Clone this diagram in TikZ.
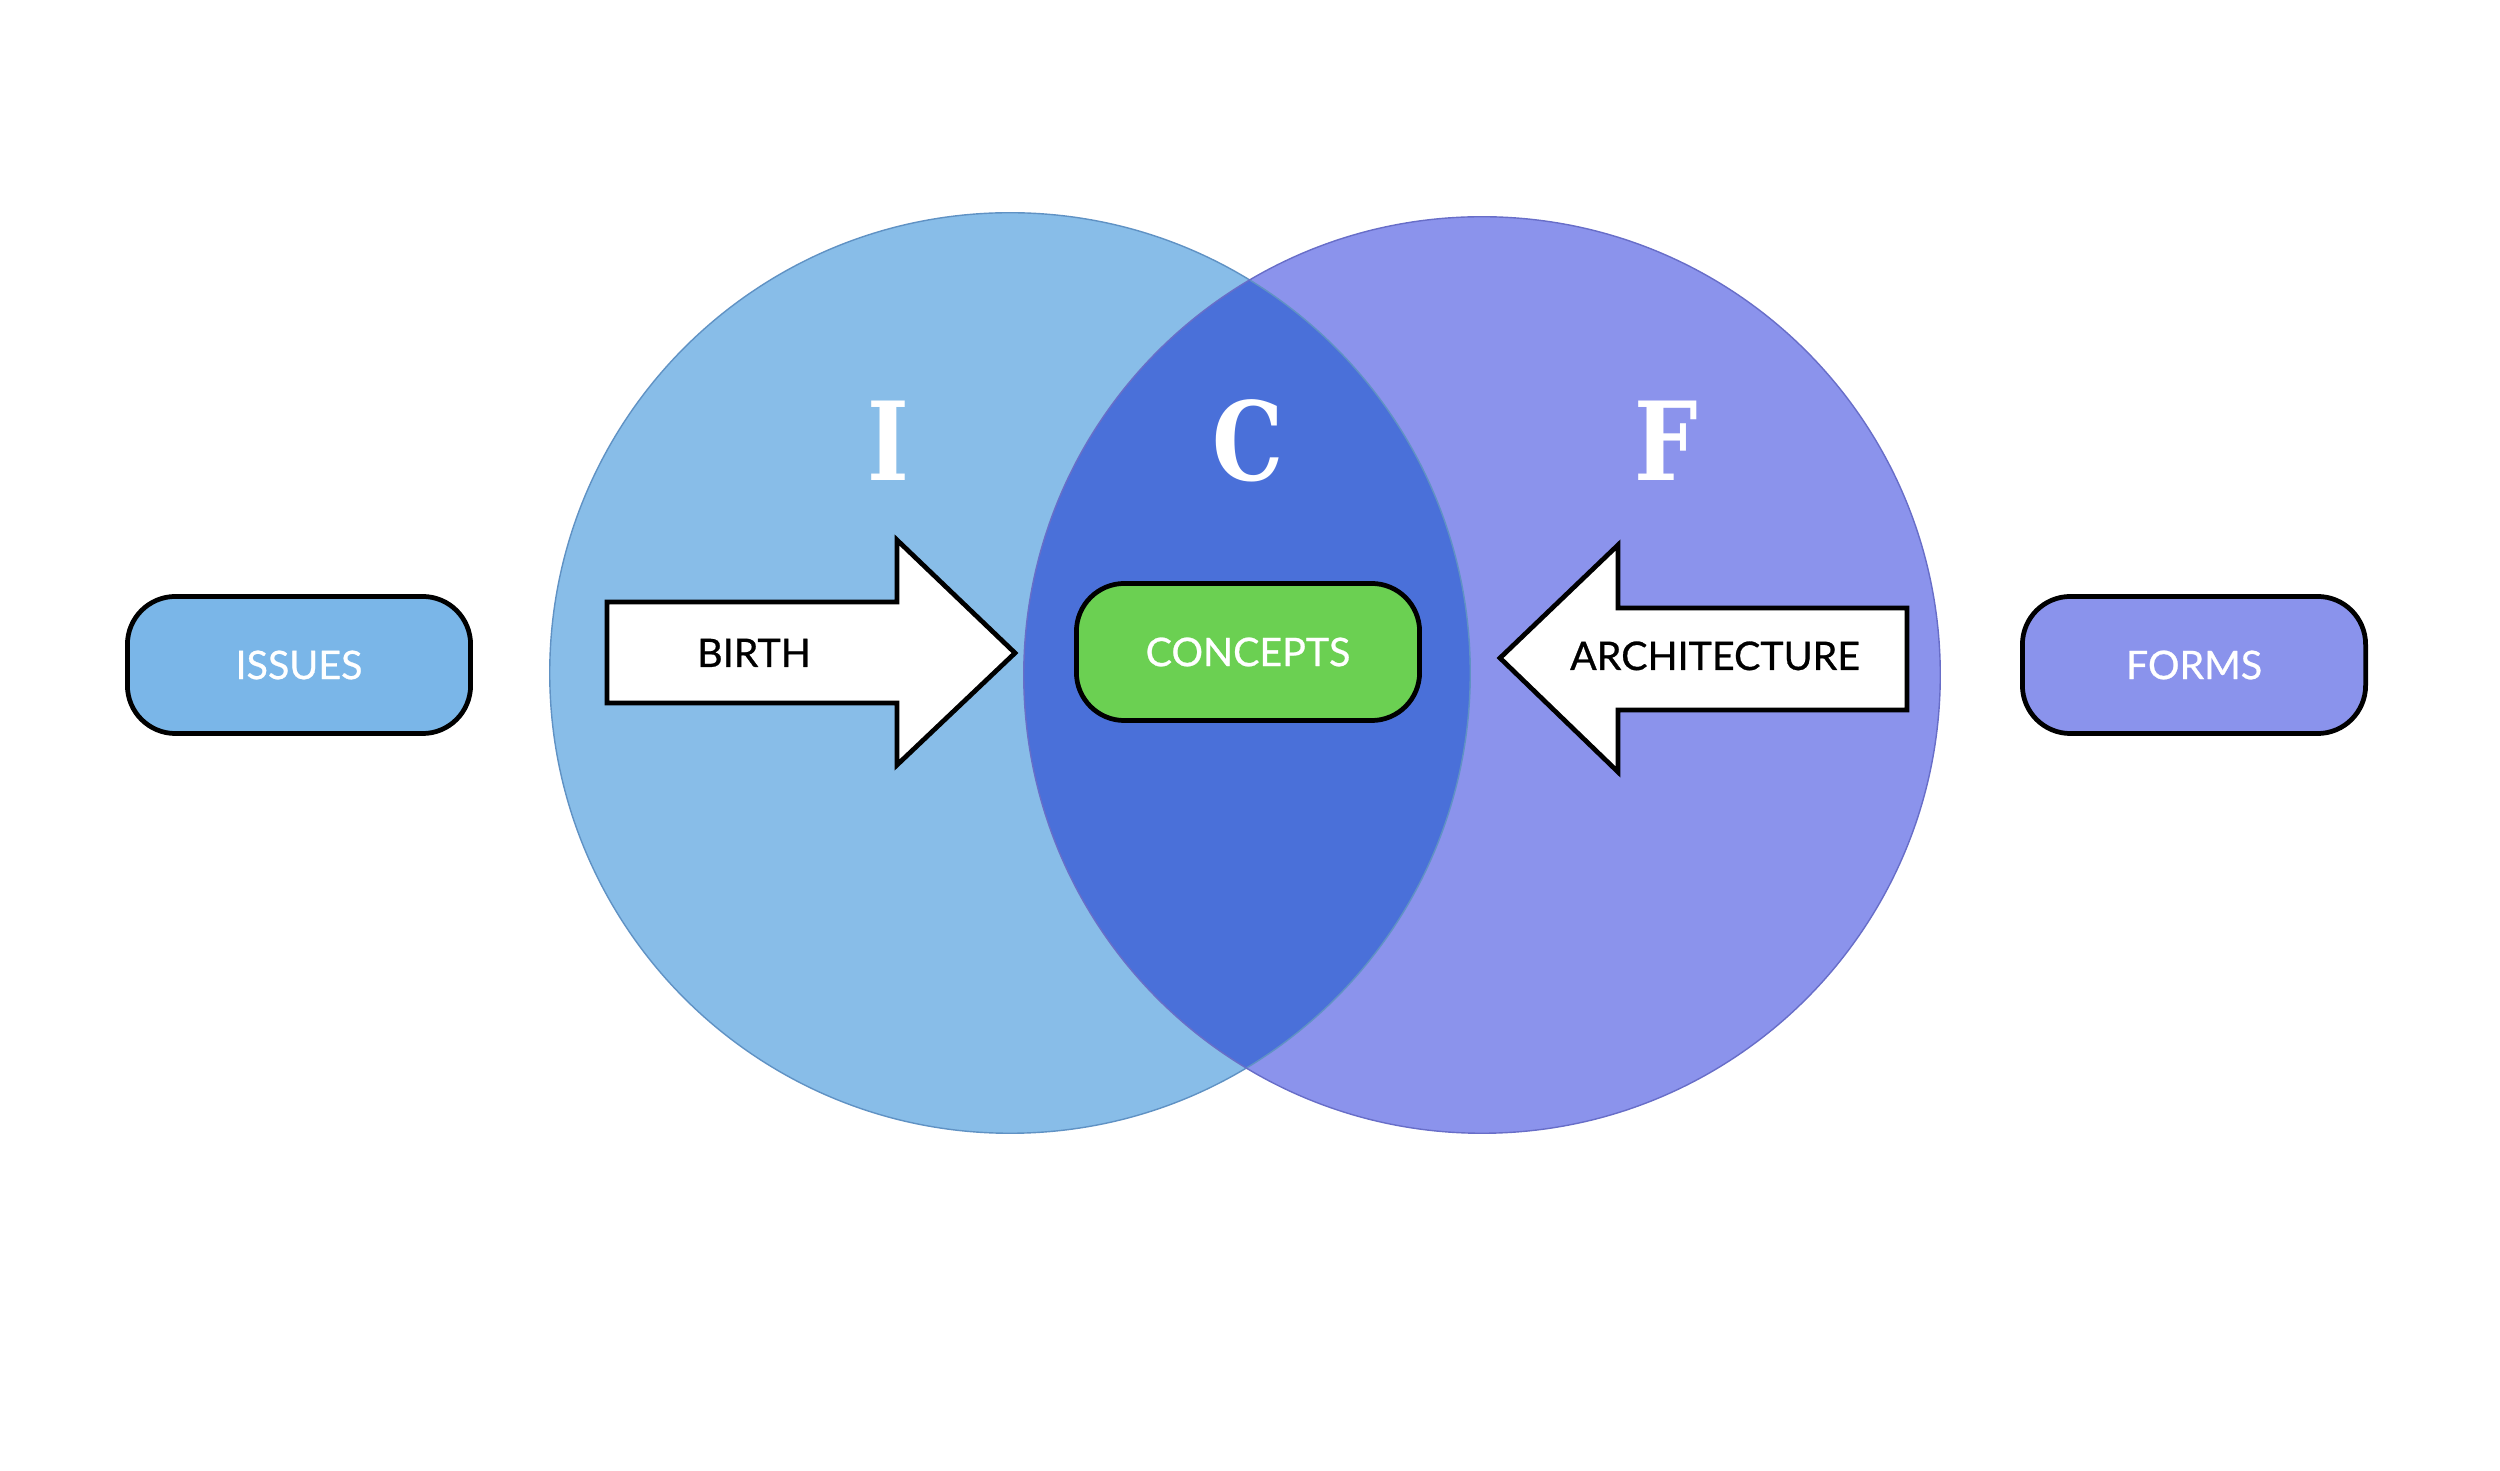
\documentclass[tikz,border=0pt]{standalone}
\usepackage{fontspec}
\setmainfont{Lato}[FakeBold=0.7]
\newfontfamily\letterfont[FakeStretch=0.82]{DejaVu Serif}
\definecolor{issuefill}{RGB}{136,189,232}
\definecolor{issueline}{RGB}{96,146,196}
\definecolor{formfill}{RGB}{139,147,236}
\definecolor{formline}{RGB}{104,110,200}
\definecolor{lensfill}{RGB}{74,112,217}
\definecolor{issuebox}{RGB}{122,182,232}
\definecolor{formbox}{RGB}{138,147,236}
\definecolor{conceptgreen}{RGB}{107,208,82}

\begin{document}
\begin{tikzpicture}[x=0.01cm,y=-0.01cm,
  tag/.style={draw=black,line width=1.35pt,rounded corners=0.48cm,
    minimum width=3.43cm,minimum height=1.37cm,text=white,
    font=\fontsize{11.2}{12}\selectfont},
  bigletter/.style={text=white,inner sep=0pt,anchor=base,
    font=\letterfont\bfseries\fontsize{31}{34}\selectfont},
  arrowbox/.style={draw=black,fill=white,line width=1.35pt,line join=miter},
  arrowtext/.style={inner sep=0pt,anchor=base,font=\fontsize{11.2}{12}\selectfont}]
\useasboundingbox (0,0) rectangle (2500,1471);
% the two circles and their overlap
\coordinate (ci) at (1010,673);
\coordinate (cf) at (1482,675);
\fill[issuefill] (ci) circle[radius=4.6cm];
\fill[formfill] (cf) circle[radius=4.58cm];
\begin{scope}
  \clip (ci) circle[radius=4.6cm];
  \fill[lensfill] (cf) circle[radius=4.58cm];
\end{scope}
\draw[issueline,line width=0.4pt] (ci) circle[radius=4.6cm];
\draw[formline,line width=0.4pt] (cf) circle[radius=4.58cm];
% letters
\node[bigletter] (li) at (888,481) {I};
\node[bigletter] (lc) at (1248,481) {C};
\node[bigletter] (lf) at (1666,481) {F};
% block arrows
\draw[arrowbox] (607,602) -- (897,602) -- (897,540) -- (1015,653)
  -- (897,765) -- (897,703) -- (607,703) -- cycle;
\node[arrowtext] (birth) at (754,667) {BIRTH};
\draw[arrowbox] (1907,608) -- (1618,608) -- (1618,545) -- (1500,658)
  -- (1618,772) -- (1618,710) -- (1907,710) -- cycle;
\node[arrowtext] (arch) at (1715,670) {ARCHITECTURE};
% boxes
\node[tag,fill=issuebox] (issues) at (299,665) {ISSUES};
\node[tag,fill=conceptgreen] (concepts) at (1248,652) {CONCEPTS};
\node[tag,fill=formbox] (forms) at (2194,665) {FORMS};
\end{tikzpicture}
\end{document}
